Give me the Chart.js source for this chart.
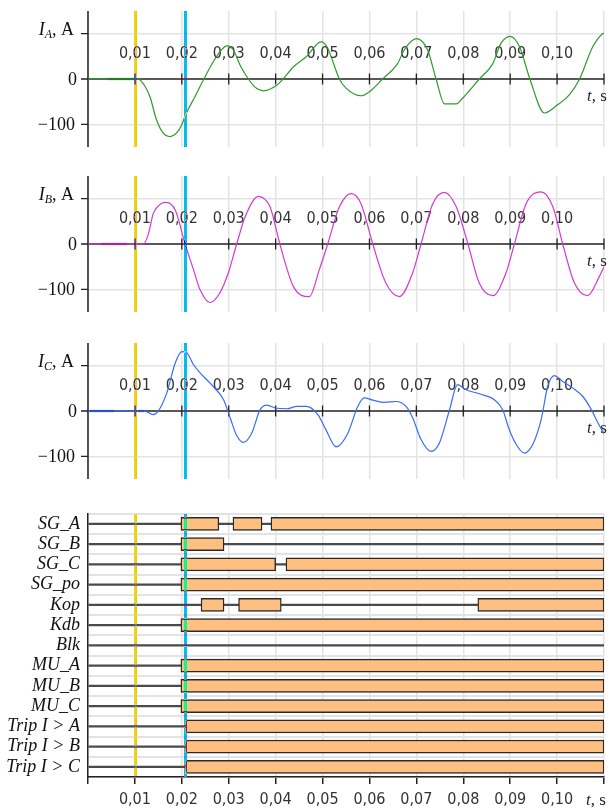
<!DOCTYPE html>
<html>
<head>
<meta charset="utf-8">
<script src="https://cdn.jsdelivr.net/npm/chart.js@4.4.1/dist/chart.umd.min.js"></script>
<style>
  html, body { margin: 0; padding: 0; background: #fff; }
  body { width: 612px; height: 811px; position: relative; overflow: hidden; }
  .panel { position: absolute; left: 0; width: 612px; }
</style>
</head>
<body>
<div class="panel" style="top:0;height:170px"><canvas id="chart-a"></canvas></div>
<div class="panel" style="top:165px;height:165px"><canvas id="chart-b"></canvas></div>
<div class="panel" style="top:330px;height:165px"><canvas id="chart-c"></canvas></div>
<div class="panel" style="top:495px;height:316px"><canvas id="chart-d"></canvas></div>
<script>
// Time axis, s
const xTicks = [0.01, 0.02, 0.03, 0.04, 0.05, 0.06, 0.07, 0.08, 0.09, 0.10, 0.11];
const xTickLabels = ['0,01', '0,02', '0,03', '0,04', '0,05', '0,06', '0,07', '0,08', '0,09', '0,10'];
const yTicks = [-100, 0, 100];

// Cursors: yellow at fault start, cyan at trip
const cursorYellow = 0.0100;
const cursorCyan = 0.0208;

// Phase A current, A
const timeA = [0, 0.0105, 0.0111, 0.0132, 0.0146, 0.0160, 0.0175, 0.0189, 0.0200, 0.0208, 0.0228, 0.0247, 0.0267, 0.0281, 0.0296, 0.0310, 0.0324, 0.0342, 0.0356, 0.0374, 0.0401, 0.0416, 0.0438, 0.0465, 0.0497, 0.0510, 0.0536, 0.0550, 0.0582, 0.0600, 0.0628, 0.0660, 0.0674, 0.0700, 0.0724, 0.0742, 0.0760, 0.0785, 0.0799, 0.0834, 0.0863, 0.0880, 0.0900, 0.0920, 0.0942, 0.0973, 0.1001, 0.1026, 0.1048, 0.1076, 0.1097, 0.1100];
const currentA = [0, 0, -2, -39, -90, -119, -127, -119, -101, -79, -39, 0, 38, 60, 73, 64, 31, 0, -18, -26, -15, 0, 27, 49, 82, 70, 0, -20, -37, -28, 0, 34, 64, 89, 64, 0, -55, -55, -42, 0, 34, 78, 94, 71, 0, -75, -57, -35, 0, 71, 100, 101];

// Phase B current, A
const timeB = [0, 0.0118, 0.0129, 0.0139, 0.0150, 0.0164, 0.0186, 0.0207, 0.0225, 0.0239, 0.0260, 0.0281, 0.0299, 0.0317, 0.0335, 0.0363, 0.0388, 0.0409, 0.0438, 0.0472, 0.0493, 0.0511, 0.0536, 0.0561, 0.0582, 0.0607, 0.0635, 0.0664, 0.0692, 0.0710, 0.0735, 0.0760, 0.0785, 0.0810, 0.0834, 0.0863, 0.0891, 0.0909, 0.0934, 0.0966, 0.0991, 0.1012, 0.1037, 0.1065, 0.1090, 0.1100];
const currentB = [0, 0, 23, 67, 84, 92, 75, 0, -57, -101, -129, -108, -64, 0, 60, 105, 82, 0, -94, -116, -57, 0, 82, 111, 89, 0, -86, -116, -64, 0, 89, 114, 82, 0, -86, -114, -64, 0, 89, 115, 82, 0, -86, -114, -72, -50];

// Phase C current, A
const timeC = [0, 0.0120, 0.0139, 0.0150, 0.0168, 0.0186, 0.0200, 0.0210, 0.0225, 0.0239, 0.0267, 0.0289, 0.0303, 0.0317, 0.0331, 0.0349, 0.0367, 0.0381, 0.0402, 0.0424, 0.0445, 0.0465, 0.0490, 0.0507, 0.0529, 0.0554, 0.0575, 0.0589, 0.0607, 0.0632, 0.0657, 0.0678, 0.0692, 0.0710, 0.0731, 0.0749, 0.0770, 0.0788, 0.0806, 0.0834, 0.0866, 0.0884, 0.0898, 0.0913, 0.0930, 0.0948, 0.0966, 0.0980, 0.0994, 0.1012, 0.1033, 0.1055, 0.1073, 0.1087, 0.1100];
const currentC = [0, 0, -8, 0, 40, 106, 131, 129, 102, 84, 54, 25, -15, -54, -69, -49, 3, 13, 6, 5, 10, 10, -8, -41, -79, -49, 10, 29, 24, 19, 21, 10, -15, -63, -89, -71, 0, 58, 47, 38, 25, 3, -41, -74, -93, -74, -19, 54, 78, 65, 51, 32, 3, -26, -50];

// darker pre-fault stretches on the zero line
const preFaultA = [[0.0043, 0.0100]];
const preFaultB = [[0.0028, 0.0083]];
const preFaultC = [[0.0004, 0.0055], [0.0107, 0.0119]];

// Discrete signals
const signals = ['SG_A', 'SG_B', 'SG_C', 'SG_po', 'Kop', 'Kdb', 'Blk', 'MU_A', 'MU_B', 'MU_C', 'Trip I > A', 'Trip I > B', 'Trip I > C'];
const segment1 = [[0.0198, 0.0279], [0.0198, 0.0290], [0.0198, 0.0400], [0.0198, 0.11], [0.0241, 0.0290], [0.0198, 0.11], null, [0.0198, 0.11], [0.0198, 0.11], [0.0198, 0.11], [0.0208, 0.11], [0.0208, 0.11], [0.0208, 0.11]];
const segment2 = [[0.0309, 0.0371], null, [0.0422, 0.11], null, [0.0321, 0.0412], null, null, null, null, null, null, null, null];
const segment3 = [[0.0390, 0.11], null, null, null, [0.0831, 0.11], null, null, null, null, null, null, null, null];
const signalOff = signals.map(() => [0, 0.11]);

const gridColor = '#e3e3e3';
const narrowFont = '"Liberation Sans Narrow", "Arial Narrow", "DejaVu Sans Condensed", sans-serif';
const serifFont = '"Liberation Serif", "DejaVu Serif", serif';

Chart.defaults.animation = false;
Chart.defaults.plugins.legend.display = false;
Chart.defaults.plugins.tooltip.enabled = false;

function zip(ts, vs) {
  return ts.map((t, i) => ({ x: t, y: vs[i] }));
}

const whiteBg = {
  id: 'whiteBg',
  beforeDraw(chart) {
    const ctx = chart.ctx;
    ctx.save();
    ctx.fillStyle = '#fff';
    ctx.fillRect(0, 0, chart.width, chart.height);
    ctx.restore();
  }
};

// cursor lines are XOR-ed into the picture
const cursors = {
  id: 'cursors',
  afterDraw(chart) {
    const ctx = chart.ctx;
    const r = chart.currentDevicePixelRatio || 1;
    const a = chart.chartArea;
    [[cursorYellow, [0, 62, 255]], [cursorCyan, [255, 65, 15]]].forEach(([t, mask]) => {
      const px = chart.scales.x.getPixelForValue(t);
      const x0 = Math.round((px - 1.3) * r);
      const y0 = Math.round(a.top * r);
      const w = Math.max(1, Math.round(2.6 * r));
      const h = Math.round((a.bottom - a.top) * r);
      const img = ctx.getImageData(x0, y0, w, h);
      const d = img.data;
      for (let i = 0; i < d.length; i += 4) {
        d[i] ^= mask[0];
        d[i + 1] ^= mask[1];
        d[i + 2] ^= mask[2];
        d[i + 3] = 255;
      }
      ctx.putImageData(img, x0, y0);
    });
  }
};

function drawTs(ctx, cx, cy) {
  ctx.save();
  ctx.textBaseline = 'middle';
  ctx.textAlign = 'left';
  ctx.font = 'italic 17px ' + serifFont;
  const wt = ctx.measureText('t').width;
  ctx.font = '17px ' + serifFont;
  const ws = ctx.measureText(', s').width;
  const x0 = cx - (wt + ws) / 2;
  ctx.fillStyle = '#1c2440';
  ctx.font = 'italic 17px ' + serifFont;
  ctx.fillText('t', x0, cy);
  ctx.fillStyle = '#222';
  ctx.font = '17px ' + serifFont;
  ctx.fillText(', s', x0 + wt, cy);
  ctx.restore();
}

const waveAxes = {
  id: 'waveAxes',
  beforeDatasetsDraw(chart, args, opts) {
    const { ctx, chartArea: a, scales: { x, y } } = chart;
    const y0 = y.getPixelForValue(0);
    ctx.save();
    ctx.strokeStyle = '#222';
    ctx.lineWidth = 1.5;
    ctx.beginPath();
    ctx.moveTo(a.left, a.top);
    ctx.lineTo(a.left, a.bottom);
    ctx.moveTo(a.left, y0);
    ctx.lineTo(a.right, y0);
    ctx.stroke();

    ctx.lineWidth = 1.3;
    ctx.beginPath();
    xTicks.forEach(t => {
      const px = x.getPixelForValue(t);
      ctx.moveTo(px, y0 - 5.5);
      ctx.lineTo(px, y0 + 5.5);
    });
    yTicks.forEach(v => {
      const py = y.getPixelForValue(v);
      ctx.moveTo(a.left - 7, py);
      ctx.lineTo(a.left, py);
    });
    ctx.stroke();

    ctx.fillStyle = '#333';
    ctx.font = '16px ' + narrowFont;
    ctx.textAlign = 'center';
    ctx.textBaseline = 'middle';
    xTickLabels.forEach((s, i) => ctx.fillText(s, x.getPixelForValue(xTicks[i]), y0 - 25));

    ctx.fillStyle = '#111';
    ctx.font = '18px ' + serifFont;
    ctx.textAlign = 'right';
    ctx.fillText('0', a.left - 11, y0 + 1);
    ctx.fillText('\u2212100', a.left - 13, y.getPixelForValue(-100) + 1);

    // axis title I_X, A
    const base = y.getPixelForValue(100) + 1;
    ctx.textAlign = 'left';
    ctx.textBaseline = 'alphabetic';
    ctx.font = 'italic 18px ' + serifFont;
    const wI = ctx.measureText('I').width;
    ctx.font = 'italic 12px ' + serifFont;
    const wSub = ctx.measureText(opts.sub).width;
    ctx.font = '18px ' + serifFont;
    const wRest = ctx.measureText(', A').width;
    let tx = 74 - (wI + wSub + wRest);
    ctx.font = 'italic 18px ' + serifFont;
    ctx.fillText('I', tx, base);
    tx += wI;
    ctx.font = 'italic 12px ' + serifFont;
    ctx.fillText(opts.sub, tx, base + 3);
    tx += wSub;
    ctx.font = '18px ' + serifFont;
    ctx.fillText(', A', tx, base);
    ctx.restore();

    drawTs(ctx, 597, y0 + 18);
  }
};

function waveChart(id, sub, color, darkColor, ts, vs, pre, padTop, padBottom) {
  const preSets = pre.map(([t0, t1]) => ({
    data: [{ x: t0, y: 0 }, { x: t1, y: 0 }],
    borderColor: darkColor,
    borderWidth: 2.2,
    pointRadius: 0
  }));
  return new Chart(document.getElementById(id), {
    type: 'line',
    data: {
      datasets: [
        {
          data: zip(ts, vs),
          borderColor: color,
          borderWidth: 1.2,
          pointRadius: 0,
          cubicInterpolationMode: 'monotone'
        },
        ...preSets
      ]
    },
    options: {
      responsive: true,
      maintainAspectRatio: false,
      layout: { padding: { left: 88, right: 8, top: padTop, bottom: padBottom } },
      scales: {
        x: {
          type: 'linear',
          min: 0,
          max: 0.11,
          afterBuildTicks: s => { s.ticks = [0].concat(xTicks).map(v => ({ value: v })); },
          afterFit: s => { s.height = 0; },
          ticks: { display: false },
          border: { display: false },
          grid: { color: gridColor, lineWidth: 1.5, drawTicks: false }
        },
        y: {
          min: -150,
          max: 150,
          afterBuildTicks: s => { s.ticks = yTicks.map(v => ({ value: v })); },
          afterFit: s => { s.width = 0; },
          ticks: { display: false },
          border: { display: false },
          grid: {
            color: c => (c.tick && c.tick.value === 0 ? 'rgba(0,0,0,0)' : gridColor),
            lineWidth: 1.5,
            drawTicks: false
          }
        }
      },
      plugins: { waveAxes: { sub: sub } }
    },
    plugins: [whiteBg, waveAxes, cursors]
  });
}

waveChart('chart-a', 'A', '#2f9a2f', '#1f5a1f', timeA, currentA, preFaultA, 11, 23);
waveChart('chart-b', 'B', '#d23ad2', '#6a1a6a', timeB, currentB, preFaultB, 11, 18);
waveChart('chart-c', 'C', '#3a6cf4', '#1a36a0', timeC, currentC, preFaultC, 13, 16);

const signalTs = {
  id: 'signalTs',
  afterDatasetsDraw(chart) {
    drawTs(chart.ctx, 596, chart.chartArea.bottom + 24);
  }
};

const barStyle = {
  backgroundColor: '#ffbf80',
  borderColor: '#2a2a2a',
  borderWidth: 1.4,
  borderSkipped: false,
  barThickness: 13,
  grouped: false
};

new Chart(document.getElementById('chart-d'), {
  type: 'bar',
  data: {
    labels: signals,
    datasets: [
      { data: segment1, ...barStyle, order: 1 },
      { data: segment2, ...barStyle, order: 1 },
      { data: segment3, ...barStyle, order: 1 },
      {
        data: signalOff,
        backgroundColor: '#4a4a4a',
        borderWidth: 0,
        barThickness: 1.6,
        grouped: false,
        order: 5
      }
    ]
  },
  options: {
    indexAxis: 'y',
    responsive: true,
    maintainAspectRatio: false,
    layout: { padding: { left: 0, right: 8, top: 13, bottom: 0 } },
    scales: {
      x: {
        type: 'linear',
        min: 0,
        max: 0.11,
        afterBuildTicks: s => { s.ticks = [0].concat(xTicks).map(v => ({ value: v })); },
        afterFit: s => { s.height = 34; },
        ticks: {
          color: '#333',
          font: { family: narrowFont, size: 16 },
          padding: 6,
          maxRotation: 0,
          autoSkip: false,
          callback: (v, i) => (i >= 1 && i <= xTickLabels.length ? xTickLabels[i - 1] : '')
        },
        border: { color: '#222', width: 1.5 },
        grid: { color: gridColor, lineWidth: 1.5, tickColor: '#222', tickLength: 7 }
      },
      y: {
        afterFit: s => { s.width = 88; },
        ticks: {
          color: '#111',
          font: { family: serifFont, size: 18, style: 'italic' },
          padding: 8,
          autoSkip: false
        },
        border: { color: '#222', width: 1.5 },
        grid: { color: gridColor, lineWidth: 2, drawTicks: false }
      }
    }
  },
  plugins: [whiteBg, signalTs, cursors]
});
</script>
</body>
</html>
